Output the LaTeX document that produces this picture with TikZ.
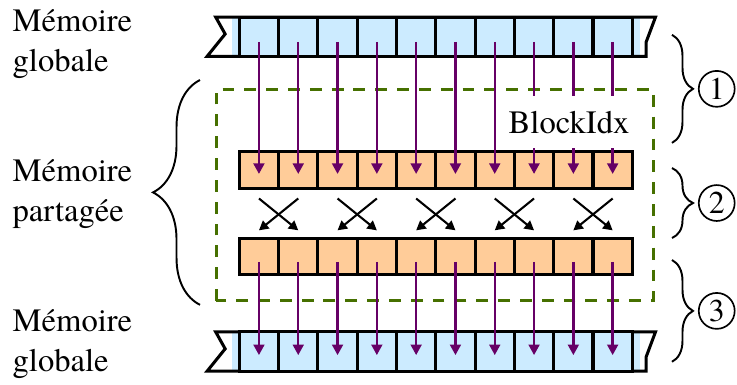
\documentclass[tikz,border=0pt]{standalone}
\usepackage{fontspec}
\setmainfont{texgyretermes-regular.otf}
\usetikzlibrary{arrows.meta,decorations.pathreplacing,positioning}
\definecolor{globalblue}{RGB}{204,235,255}
\definecolor{sharedorange}{RGB}{255,204,153}
\definecolor{flowpurple}{RGB}{102,0,102}
\definecolor{frameolive}{RGB}{70,112,0}

\begin{document}
\begin{tikzpicture}[x=5mm,y=5mm,font=\fontsize{11.8pt}{14.5pt}\selectfont,
        memcell/.style={draw,line width=1.1pt,minimum width=5mm,minimum height=5mm,inner sep=0pt,outer sep=0pt},
        barline/.style={draw,line width=1.1pt,line join=miter},
        flowarrow/.style={flowpurple,line width=0.85pt,-{Triangle[length=3.8pt,width=3.9pt]}},
        crossarrow/.style={black,line width=0.75pt,-{Triangle[length=3.4pt,width=3.6pt]}},
        sharedframe/.style={frameolive,line width=1.1pt,dash pattern=on 4.3pt off 3.6pt},
        bracebig/.style={line width=0.7pt,decorate,decoration={brace,amplitude=17pt}},
        bracesmall/.style={line width=0.7pt,decorate,decoration={brace,amplitude=7.6pt}},
        stepnum/.style={draw,circle,line width=0.6pt,minimum size=13pt,inner sep=0pt,font=\fontsize{11.5pt}{13pt}\selectfont},
        memlabel/.style={align=left,inner sep=0pt,anchor=west}]
    \useasboundingbox (-6.089,0) rectangle (12.664,9.796);

    \foreach \row/\vc in {gt/8.86,gb/0.85}{
        \fill[globalblue] (-0.19,\vc-0.5) rectangle (10.2,\vc+0.5);
        \draw[barline] (-0.6,\vc+0.5) -- (10.59,\vc+0.5) -- (10.35,\vc-0.14) -- (10.35,\vc-0.5)
            -- (-0.82,\vc-0.5) -- (-0.36,\vc+0.07) -- cycle;
        \foreach \i in {1,...,10}
            \node[memcell,fill=globalblue] (\row\i) at (\i-0.5,\vc) {};
    }
    \foreach \row/\vc in {su/5.47,sl/3.27}
        \foreach \i in {1,...,10}
            \node[memcell,fill=sharedorange,minimum height=4.65mm] (\row\i) at (\i-0.5,\vc) {};

    \draw[sharedframe] (-0.59,2.14) rectangle (10.53,7.53);

    \foreach \i in {1,...,10}{
        \draw[flowarrow] ([yshift=-0.65mm]gt\i.center) -- ([yshift=-0.5mm]su\i.center);
        \draw[flowarrow] ([yshift=-0.7mm]sl\i.center) -- ([yshift=-0.45mm]gb\i.center);
    }
    \foreach \a/\b in {1/2,3/4,5/6,7/8,9/10}{
        \draw[crossarrow] ([yshift=-1.3mm]su\a.south) -- ([yshift=1mm]sl\b.north);
        \draw[crossarrow] ([yshift=-1.3mm]su\b.south) -- ([yshift=1mm]sl\a.north);
    }
    \node[fill=white,inner xsep=3pt,inner ysep=5.2pt] (blockidx) at (8.39,6.69) {BlockIdx};

    \node[memlabel] (globaltop) at (-5.78,8.67) {Mémoire\\globale};
    \node[memlabel] (sharedlbl) at (-5.78,4.86) {Mémoire\\partagée};
    \node[memlabel] (globalbot) at (-5.78,1.04) {Mémoire\\globale};
    \draw[bracebig] (-1,2.04) -- (-1,7.76);

    \foreach \k/\top/\bot in {1/8.91/6.16,2/5.52/3.74,3/3.18/0.59}
        \draw[bracesmall] (11.01,\top) -- (11.01,\bot)
            node[stepnum,midway,right=3.3mm] (num\k) {\k};
\end{tikzpicture}
\end{document}
